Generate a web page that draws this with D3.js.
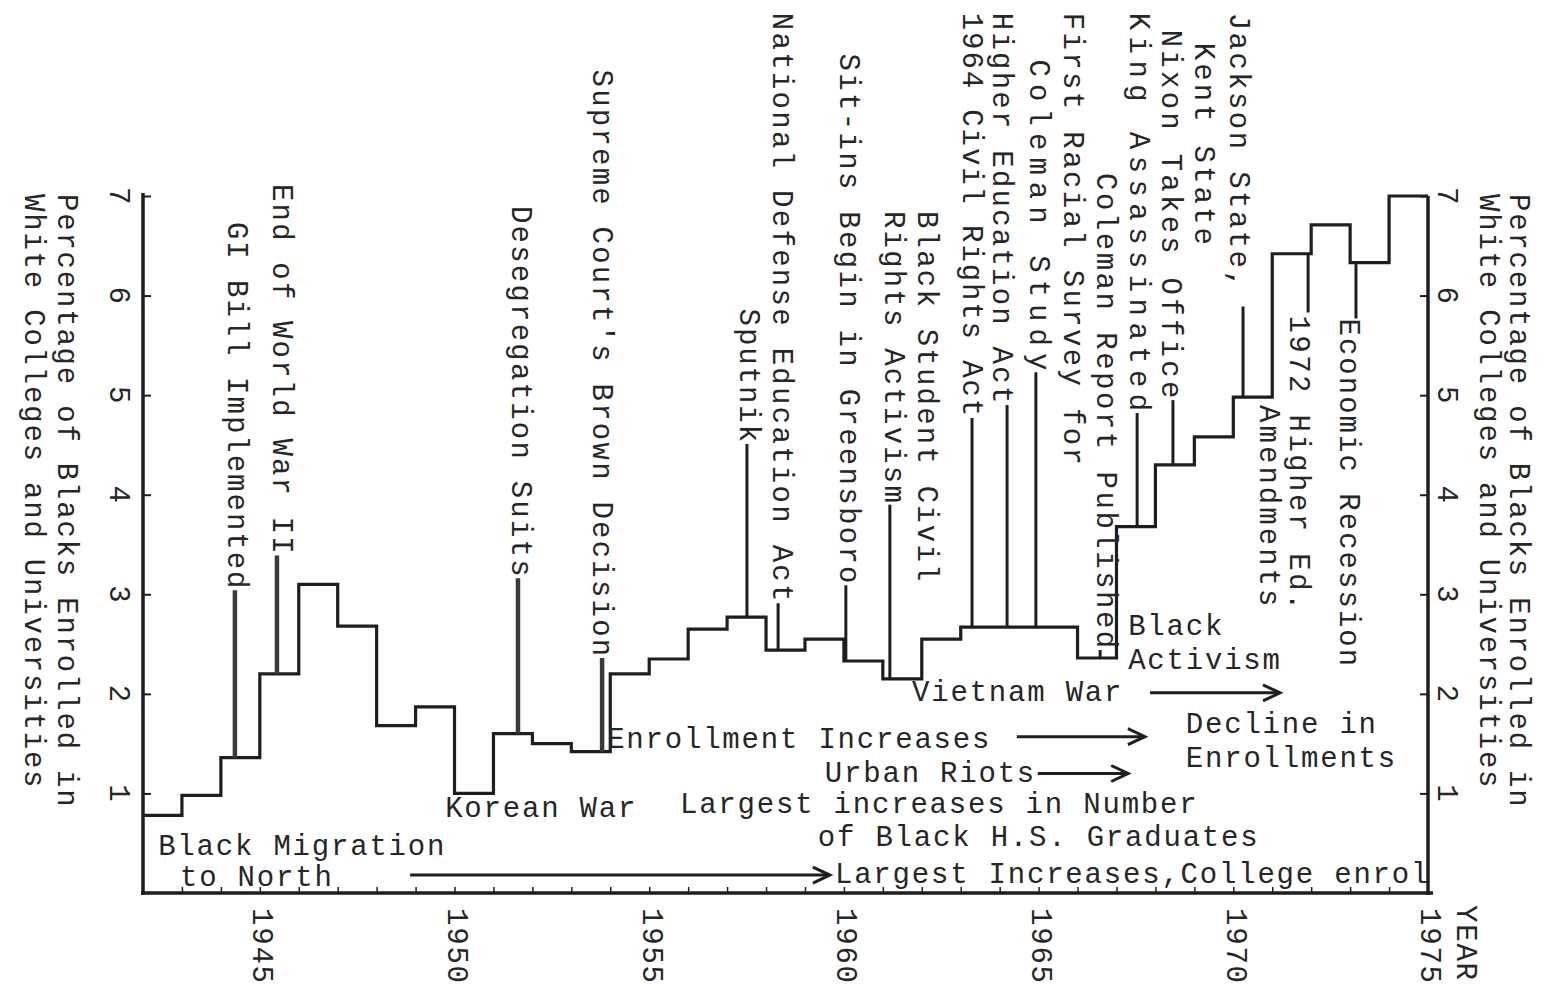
<!DOCTYPE html>
<html>
<head>
<meta charset="utf-8">
<script src="https://cdn.jsdelivr.net/npm/d3@7"></script>
<style>
body { margin: 0; background: #fff; }
text { font-family: "Liberation Mono", "Courier New", monospace; font-size: 29px; letter-spacing: 1.8px; fill: #262626; }
</style>
</head>
<body>
<svg id="chart"></svg>
<script>
const width = 1564;
const height = 989;

// percentage of blacks enrolled in white colleges, one step per year
const years = d3.range(1942, 1975);
const enrolled = [0.78, 0.98, 1.36, 2.2, 3.1, 2.68, 1.68, 1.87, 1.0, 1.6, 1.5, 1.42,
    2.2, 2.35, 2.65, 2.77, 2.44, 2.55, 2.33, 2.15, 2.55, 2.67, 2.67, 2.67, 2.36,
    3.68, 4.3, 4.58, 4.98, 6.42, 6.71, 6.33, 7.0];

const yTicks = [1, 2, 3, 4, 5, 6, 7];
const yearTicks = [1945, 1950, 1955, 1960, 1965, 1970, 1975];
const minorYears = d3.range(1943, 1975);
const axisTitle = ['Percentage of Blacks Enrolled in', 'White Colleges and Universities'];

// event lines: from the step at that year to the end of the label
const events = [
    { note: 'GI Bill', year: 1944.36, to: 3.04 },
    { note: 'End of War', year: 1945.44, to: 3.39 },
    { note: 'Desegregation', year: 1951.63, to: 3.16 },
    { note: 'Brown', year: 1953.79, to: 2.36 },
    { note: 'Sputnik', year: 1957.51, to: 4.51 },
    { note: 'NDEA', year: 1958.31, to: 2.91 },
    { note: 'Sit-ins', year: 1960.05, to: 3.09 },
    { note: 'Student Activism', year: 1961.18, to: 3.90 },
    { note: 'Civil Rights Act', year: 1963.29, to: 4.77 },
    { note: 'Higher Education Act', year: 1964.19, to: 4.90 },
    { note: 'Coleman Study', year: 1964.93, to: 5.23 },
    { note: 'Coleman Report', year: 1966.58, to: 2.44 },
    { note: 'King', year: 1967.53, to: 4.82 },
    { note: 'Nixon', year: 1968.45, to: 4.95 },
    { note: 'Jackson State', year: 1970.25, to: 5.89 },
    { note: '1972 Amendments', year: 1971.92, to: 5.83 },
    { note: 'Recession', year: 1973.15, to: 5.77 }
];
const heavyEvents = ['End of War', 'Desegregation', 'Brown', 'GI Bill'];

// vertical typed labels: text, year of the column, value where it starts and ends
const eventLabels = [
    ['GI Bill Implemented', 1944.44, 6.74, 3.04],
    ['End of World War II', 1945.60, 7.12, 3.39],
    ['Desegregation Suits', 1951.73, 6.90, 3.16],
    ["Supreme Court's Brown Decision", 1953.81, 8.27, 2.36],
    ['Sputnik', 1957.59, 5.87, 4.51],
    ['National Defense Education Act', 1958.44, 8.84, 2.91],
    ['Sit-ins Begin in Greensboro', 1960.16, 8.43, 3.09],
    ['Black Student Civil', 1962.16, 6.85, 3.11],
    ['Rights Activism', 1961.31, 6.85, 3.90],
    ['1964 Civil Rights Act', 1963.31, 8.84, 4.77],
    ['Higher Education Act', 1964.09, 8.84, 4.90],
    ['First Racial Survey for', 1965.91, 8.84, 4.28],
    ['Coleman Study', 1965.04, 8.37, 5.23],
    ['Coleman Report Published', 1966.76, 7.23, 2.44],
    ['King Assassinated', 1967.60, 8.84, 4.82],
    ['Nixon Takes Office', 1968.43, 8.67, 4.95],
    ['Kent State', 1969.27, 8.54, 6.49],
    ['Jackson State,', 1970.17, 8.84, 6.06],
    ['1972 Higher Ed.', 1971.71, 5.80, 2.82],
    ['Amendments', 1970.94, 4.90, 2.86],
    ['Economic Recession', 1973.0, 5.77, 2.26]
];

// horizontal typed notes: text, year where it starts, value of baseline
const trendNotes = [
    ['Black Migration', 1942.39, 0.38],
    ['to North', 1942.95, 0.07],
    ['Korean War', 1949.76, 0.76],
    ['Largest increases in Number', 1955.79, 0.80],
    ['of Black H.S. Graduates', 1959.33, 0.47],
    ['Largest Increases,College enrol', 1959.77, 0.10],
    ['Enrollment Increases', 1953.92, 1.46],
    ['Urban Riots', 1959.51, 1.11],
    ['Vietnam War', 1961.75, 1.93],
    ['Decline in', 1968.78, 1.61],
    ['Enrollments', 1968.78, 1.27],
    ['Black', 1967.30, 2.59],
    ['Activism', 1967.30, 2.25]
];

// arrows: start year, end year, value
const arrows = [
    [1948.86, 1959.64, 0.18],
    [1964.44, 1967.73, 1.57],
    [1964.98, 1967.30, 1.20],
    [1967.86, 1971.20, 2.01]
];

const x = d3.scaleLinear().domain([1942, 1975]).range([143, 1428]);
const y = d3.scaleLinear().domain([0, 7]).range([893, 196]);

const svg = d3.select('#chart')
    .attr('width', width)
    .attr('height', height);

const ink = '#1e1e1e';

// x axis with a tick for every year
const xMinor = svg.append('g')
    .attr('transform', `translate(0,${y(0)})`)
    .style('color', ink)
    .call(d3.axisTop(x).tickValues(minorYears).tickSize(6).tickSizeOuter(0).tickFormat(''));
xMinor.select('.domain').attr('stroke-width', 3.5).attr('d', `M${x(1942) - 2},0H${x(1975) + 5}`);
xMinor.selectAll('.tick line').attr('stroke-width', 1.5);

const xMajor = svg.append('g')
    .attr('transform', `translate(0,${y(0)})`)
    .call(d3.axisBottom(x).tickValues(yearTicks).tickSize(0).tickFormat(d3.format('d')));
xMajor.select('.domain').remove();
xMajor.selectAll('text')
    .attr('x', 0).attr('y', 0).attr('dy', '0.35em')
    .attr('text-anchor', 'start')
    .attr('transform', 'translate(3,15) rotate(90)');

svg.append('text')
    .attr('transform', `translate(${x(1975) + 39},${y(0) + 12}) rotate(90)`)
    .attr('dy', '0.35em')
    .text('YEAR');

// left and right value axes
const yLeft = svg.append('g')
    .attr('transform', `translate(${x(1942)},0)`)
    .style('color', ink)
    .call(d3.axisRight(y).tickValues(yTicks).tickSize(8).tickSizeOuter(0).tickFormat(d3.format('d')));
yLeft.select('.domain').attr('stroke-width', 3.5).attr('d', `M0,${y(7) - 3}V${y(0) + 2}`);
yLeft.selectAll('.tick line').attr('stroke-width', 2);
yLeft.selectAll('text')
    .attr('x', 0).attr('dy', '0.35em')
    .attr('text-anchor', 'middle')
    .attr('transform', 'translate(-23,0) rotate(90)');

const yRight = svg.append('g')
    .attr('transform', `translate(${x(1975)},0)`)
    .style('color', ink)
    .call(d3.axisLeft(y).tickValues(yTicks).tickSize(8).tickSizeOuter(0).tickFormat(d3.format('d')));
yRight.select('.domain').attr('stroke-width', 3.5).attr('d', `M0,${y(7)}V${y(0) + 2}`);
yRight.selectAll('.tick line').attr('stroke-width', 2);
yRight.selectAll('text')
    .attr('x', 0).attr('dy', '0.35em')
    .attr('text-anchor', 'middle')
    .attr('transform', 'translate(20,0) rotate(90)');

// axis titles on both sides
[[x(1942) - 75, -33], [x(1975) + 92, -30]].forEach(([cx, step]) => {
    svg.append('g').selectAll('text')
        .data(axisTitle)
        .enter()
        .append('text')
        .attr('transform', (d, i) => `translate(${cx + i * step},${y(7) - 2}) rotate(90)`)
        .attr('dy', '0.35em')
        .attr('text-anchor', 'start')
        .text(d => d);
});

// the enrollment steps
const stepPoints = years.map((yr, i) => [yr, enrolled[i]]);
stepPoints.push([1975, enrolled[enrolled.length - 1]]);

svg.append('path')
    .datum(stepPoints)
    .attr('fill', 'none')
    .attr('stroke', ink)
    .attr('stroke-width', 3.2)
    .attr('stroke-linejoin', 'miter')
    .attr('d', d3.line()
        .x(d => x(d[0]))
        .y(d => y(d[1]))
        .curve(d3.curveStepAfter));

// event connectors
svg.append('g').selectAll('line')
    .data(events)
    .enter()
    .append('line')
    .attr('x1', d => x(d.year))
    .attr('x2', d => x(d.year))
    .attr('y1', d => y(enrolled[Math.floor(d.year) - 1942]))
    .attr('y2', d => y(d.to))
    .attr('stroke', d => heavyEvents.includes(d.note) ? '#3a3a3a' : ink)
    .attr('stroke-width', d => heavyEvents.includes(d.note) ? 4.5 : 3);

// vertical labels
svg.append('g').selectAll('text')
    .data(eventLabels)
    .enter()
    .append('text')
    .attr('transform', d => `translate(${x(d[1])},${y(d[2])}) rotate(90)`)
    .attr('dy', '0.35em')
    .attr('text-anchor', 'start')
    .attr('textLength', d => y(d[3]) - y(d[2]))
    .attr('lengthAdjust', 'spacing')
    .text(d => d[0]);

// horizontal notes
svg.append('g').selectAll('text')
    .data(trendNotes)
    .enter()
    .append('text')
    .attr('x', d => x(d[1]))
    .attr('y', d => y(d[2]))
    .text(d => d[0]);

// arrows
const arrowG = svg.append('g')
    .attr('fill', 'none')
    .attr('stroke', ink)
    .attr('stroke-width', 3);
arrows.forEach(([a, b, v]) => {
    const x1 = x(a), x2 = x(b), yy = y(v);
    arrowG.append('path').attr('d', `M${x1},${yy}H${x2}`);
    arrowG.append('path')
        .attr('stroke-linejoin', 'miter')
        .attr('d', `M${x2 - 17},${yy - 8}L${x2},${yy}L${x2 - 17},${yy + 8}`);
});
</script>
</body>
</html>
